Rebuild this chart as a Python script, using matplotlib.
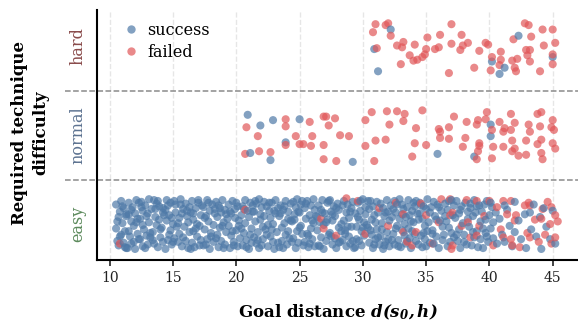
import numpy as np
import matplotlib
matplotlib.use("Agg")
import matplotlib.pyplot as plt
from matplotlib.lines import Line2D

plt.rcParams['font.family'] = ['DejaVu Serif']
plt.rcParams['mathtext.fontset'] = 'dejavuserif'

# category order on the y axis (bottom to top) and label colours
categories = ['easy', 'normal', 'hard']
cat_colors = ['#5c8a5c', '#5d7391', '#8a4b4b']
outcomes = ['success', 'failed']
outcome_colors = ['#4e79a7', '#e15759']

# ---- easy: success (goal distance, vertical jitter) ----
easy_success_x = [
    10.5, 10.5, 10.6, 10.7, 10.7, 10.8, 10.9, 10.9, 11.0, 11.1, 11.1, 11.2, 11.3, 11.3,
    11.4, 11.5, 11.5, 11.6, 11.7, 11.7, 11.8, 11.9, 12.0, 12.0, 12.1, 12.2, 12.2, 12.3,
    12.4, 12.4, 12.5, 12.6, 12.6, 12.7, 12.8, 12.9, 12.9, 13.0, 13.1, 13.1, 13.2, 13.3,
    13.4, 13.5, 13.5, 13.6, 13.7, 13.7, 13.8, 13.9, 13.9, 14.0, 14.1, 14.2, 14.2, 14.3,
    14.4, 14.4, 14.5, 14.6, 14.6, 14.7, 14.8, 14.8, 14.9, 15.0, 15.1, 15.1, 15.2, 15.3,
    15.4, 15.5, 15.5, 15.6, 15.7, 15.7, 15.8, 15.9, 16.0, 16.0, 16.1, 16.2, 16.2, 16.3,
    16.4, 16.5, 16.5, 16.6, 16.6, 16.7, 16.8, 16.9, 16.9, 17.0, 17.1, 17.1, 17.2, 17.3,
    17.4, 17.4, 17.5, 17.6, 17.7, 17.7, 17.8, 17.9, 17.9, 18.0, 18.1, 18.2, 18.2, 18.3,
    18.4, 18.5, 18.5, 18.6, 18.7, 18.7, 18.8, 18.8, 18.9, 19.0, 19.1, 19.1, 19.2, 19.3,
    19.4, 19.4, 19.5, 19.6, 19.6, 19.7, 19.8, 19.9, 19.9, 20.0, 20.1, 20.1, 20.2, 20.3,
    20.4, 20.5, 20.5, 20.6, 20.7, 20.7, 20.8, 20.9, 21.0, 21.0, 21.1, 21.2, 21.2, 21.3,
    21.4, 21.4, 21.5, 21.6, 21.6, 21.7, 21.8, 21.8, 21.9, 22.0, 22.1, 22.1, 22.2, 22.3,
    22.4, 22.5, 22.5, 22.6, 22.7, 22.7, 22.8, 22.9, 22.9, 23.0, 23.1, 23.1, 23.2, 23.3,
    23.4, 23.4, 23.5, 23.6, 23.6, 23.7, 23.8, 23.9, 23.9, 24.0, 24.1, 24.1, 24.2, 24.3,
    24.4, 24.5, 24.5, 24.6, 24.7, 24.7, 24.8, 24.8, 24.9, 25.0, 25.1, 25.1, 25.2, 25.3,
    25.4, 25.4, 25.5, 25.6, 25.6, 25.7, 25.8, 25.9, 25.9, 26.0, 26.1, 26.1, 26.2, 26.3,
    26.4, 26.5, 26.5, 26.6, 26.7, 26.7, 26.8, 26.9, 26.9, 27.0, 27.1, 27.2, 27.2, 27.3,
    27.4, 27.4, 27.5, 27.6, 27.6, 27.7, 27.8, 27.8, 27.9, 28.0, 28.1, 28.1, 28.2, 28.3,
    28.4, 28.5, 28.5, 28.6, 28.7, 28.7, 28.8, 28.9, 28.9, 29.0, 29.1, 29.1, 29.2, 29.3,
    29.4, 29.4, 29.5, 29.6, 29.6, 29.7, 29.8, 29.9, 29.9, 30.0, 30.1, 30.1, 30.2, 30.3,
    30.4, 30.5, 30.5, 30.6, 30.7, 30.7, 30.8, 30.8, 30.9, 31.0, 31.1, 31.1, 31.2, 31.3,
    31.4, 31.4, 31.5, 31.6, 31.6, 31.7, 31.8, 31.9, 31.9, 32.0, 32.1, 32.1, 32.2, 32.3,
    32.4, 32.5, 32.5, 32.6, 32.7, 32.7, 32.8, 32.9, 32.9, 33.0, 33.1, 33.1, 33.2, 33.3,
    33.4, 33.4, 33.5, 33.6, 33.6, 33.7, 33.8, 33.8, 33.9, 34.0, 34.1, 34.1, 34.2, 34.3,
    34.4, 34.5, 34.5, 34.6, 34.7, 34.7, 34.8, 34.9, 34.9, 35.0, 35.1, 35.1, 35.2, 35.3,
    35.4, 35.5, 35.6, 35.6, 35.7, 35.8, 35.9, 36.0, 36.1, 36.2, 36.3,
    36.4, 36.5, 36.6, 36.7, 36.7, 36.8, 36.9, 37.0, 37.1, 37.2, 37.3,
    37.4, 37.5, 37.6, 37.6, 37.7, 37.8, 37.9, 38.0, 38.1, 38.2, 38.3,
    38.4, 38.5, 38.6, 38.7, 38.8, 38.8, 38.9, 39.0, 39.1, 39.2, 39.3,
    39.4, 39.5, 39.6, 39.7, 39.7, 39.8, 39.9, 40.0, 40.1, 40.2, 40.3,
    40.5, 40.6, 40.8, 41.0, 41.2, 41.2, 41.4, 41.6, 41.8, 42.0, 42.0, 42.3, 42.5,
    42.8, 42.9, 43.2, 43.3, 43.5, 43.7, 44.0, 44.1, 44.3, 44.5, 44.8, 45.0, 45.2,
    # second pass over the dense part of the row
    10.6, 10.8, 11.0, 11.2, 11.3,
    11.5, 11.7, 11.9, 12.1, 12.3,
    12.5, 12.6, 12.8, 13.0, 13.2,
    13.4, 13.6, 13.8, 14.0, 14.2,
    14.5, 14.7, 14.9, 15.0, 15.2,
    15.4, 15.6, 15.8, 16.1, 16.3,
    16.4, 16.6, 16.8, 17.0, 17.2,
    17.5, 17.6, 17.8, 18.0, 18.3,
    18.4, 18.6, 18.9, 19.0, 19.2,
    19.5, 19.7, 19.8, 20.0, 20.2,
    20.4, 20.6, 20.8, 21.1, 21.3,
    21.5, 21.7, 21.9, 22.0, 22.2,
    22.4, 22.6, 22.8, 23.0, 23.3,
    23.5, 23.7, 23.8, 24.1, 24.3,
    24.4, 24.6, 24.9, 25.0, 25.2,
    25.5, 25.7, 25.8, 26.0, 26.2,
    26.4, 26.6, 26.8, 27.1, 27.3,
    27.5, 27.6, 27.9, 28.1, 28.3,
    28.4, 28.6, 28.8, 29.0, 29.2,
    29.5, 29.7, 29.8, 30.0, 30.2,
    30.4, 30.6, 30.9, 31.0, 31.2,
    31.5, 31.7, 31.8, 32.0, 32.3,
    32.4, 32.6, 32.8, 33.1, 33.3,
    33.5, 33.7, 33.9, 34.0, 34.2,
    34.4, 34.6, 34.8, 35.0, 35.3,
    35.5, 35.8, 36.0, 36.3,
    36.5, 36.8, 37.0, 37.2,
    37.4, 37.7, 38.0, 38.3,
    38.5, 38.7, 39.0, 39.3,
    39.5, 39.8, 40.1, 40.3,
]
easy_success_dy = [
    0.22, -0.05, -0.19, 0.08, -0.24, 0.14, -0.12, 0.26, 0.01, -0.21, 0.18, -0.08, 0.11, -0.27,
    -0.27, 0.11, 0.24, -0.14, 0.03, -0.22, 0.19, -0.02, -0.28, 0.12, 0.27, -0.11, 0.06, -0.17,
    0.06, -0.17, 0.25, -0.25, 0.15, -0.06, 0.21, -0.13, 0.09, -0.23, 0.02, 0.28, -0.10, 0.17,
    -0.09, 0.27, -0.22, 0.17, -0.01, 0.23, -0.26, 0.05, 0.20, -0.15, -0.04, 0.13, -0.20, 0.10,
    0.16, -0.28, 0.04, 0.21, -0.18, 0.10, -0.07, 0.24, -0.23, 0.00, 0.26, -0.16, 0.13, -0.03,
    -0.20, 0.07, -0.11, 0.28, 0.12, -0.25, 0.17, -0.03, 0.23, -0.19, 0.09, -0.27, 0.02, 0.19,
    0.13, -0.21, 0.26, -0.08, 0.05, -0.26, 0.18, 0.00, -0.14, 0.24, -0.02, -0.24, 0.10, 0.21,
    -0.24, 0.19, -0.06, 0.09, -0.17, 0.27, 0.03, -0.28, 0.15, -0.10, 0.22, -0.01, -0.20, 0.12,
    0.25, -0.12, 0.08, -0.26, 0.18, -0.04, 0.13, -0.19, 0.27, 0.02, -0.23, 0.16, -0.09, 0.06,
    -0.02, 0.22, -0.27, 0.12, -0.13, 0.26, -0.20, 0.07, 0.17, -0.07, -0.25, 0.20, 0.04, -0.16,
    0.10, -0.24, 0.20, -0.10, 0.27, 0.01, -0.18, 0.15, -0.28, 0.08, 0.24, -0.05, -0.21, 0.14,
    -0.15, 0.14, 0.03, -0.22, 0.23, -0.09, 0.28, -0.27, 0.11, 0.19, -0.03, -0.17, 0.25, -0.06,
    0.20, -0.01, -0.25, 0.15, -0.14, 0.07, 0.24, -0.20, 0.00, -0.28, 0.12, 0.27, -0.09, 0.18,
    -0.26, 0.09, 0.21, -0.04, -0.19, 0.16, 0.01, -0.12, 0.26, -0.23, 0.06, 0.14, -0.16, 0.23,
    0.03, 0.25, -0.16, 0.11, -0.27, 0.19, -0.08, 0.28, -0.21, 0.13, -0.02, 0.22, -0.11, -0.24,
    0.18, -0.20, 0.06, -0.11, 0.26, -0.26, 0.10, -0.05, 0.21, -0.17, 0.28, 0.01, -0.25, 0.09,
    -0.07, 0.21, -0.24, 0.02, 0.16, -0.15, 0.27, -0.01, -0.28, 0.12, -0.19, 0.24, 0.05, -0.12,
    0.27, -0.10, 0.14, -0.23, 0.04, 0.20, -0.16, 0.09, -0.27, 0.23, -0.04, 0.16, -0.20, 0.00,
    -0.18, 0.04, 0.26, -0.07, -0.25, 0.13, 0.22, -0.14, 0.07, -0.22, 0.18, -0.03, 0.25, -0.27,
    0.12, -0.26, -0.03, 0.24, 0.08, -0.19, 0.15, -0.08, -0.24, 0.28, 0.02, -0.13, 0.19, -0.01,
    -0.04, 0.17, -0.21, 0.26, -0.12, 0.05, -0.27, 0.20, 0.10, -0.17, 0.25, -0.06, 0.13, -0.23,
    0.23, -0.14, 0.01, -0.28, 0.18, 0.09, -0.20, 0.27, -0.09, 0.14, -0.25, 0.04, 0.21, -0.18,
    -0.11, 0.26, -0.23, 0.13, -0.02, 0.22, -0.18, 0.06, 0.28, -0.26, 0.11, -0.07, 0.17, 0.00,
    0.08, -0.22, 0.19, -0.05, 0.27, -0.16, 0.03, -0.27, 0.15, 0.24, -0.11, 0.20, -0.19, 0.12,
    -0.23, 0.12, 0.24, -0.13, 0.06, -0.26, 0.20, -0.02, -0.17, 0.17, 0.28, -0.08, 0.02, -0.21,
    0.19, -0.07, 0.25, -0.22, 0.09, -0.14, 0.22, -0.27, 0.04, 0.15, -0.18,
    -0.12, 0.23, 0.03, -0.25, 0.16, -0.04, -0.20, 0.27, 0.10, -0.15, 0.07,
    0.26, -0.19, 0.12, -0.06, -0.27, 0.20, 0.01, -0.12, 0.24, -0.23, 0.14,
    -0.03, 0.18, -0.24, 0.09, 0.27, -0.15, 0.13, -0.08, -0.26, 0.21, 0.03,
    0.14, -0.27, 0.22, -0.10, 0.05, 0.26, -0.20, 0.10, -0.05, 0.19, -0.16,
    0.13, -0.22, 0.06, -0.12, 0.21, -0.20, 0.16, -0.02, -0.25, -0.09, 0.25, 0.04, -0.17,
    0.11, -0.27, 0.13, -0.06, 0.22, -0.14, 0.08, -0.28, 0.18, -0.03, -0.17, 0.15, -0.22,
    # second pass
    0.03, -0.14, 0.20, -0.26, 0.09,
    -0.08, 0.16, -0.20, 0.02, 0.24,
    0.19, -0.01, -0.27, 0.12, -0.15,
    -0.18, 0.08, 0.26, -0.06, 0.18,
    0.27, -0.12, 0.07, -0.20, 0.22,
    0.01, 0.22, -0.15, 0.15, -0.09,
    -0.28, 0.12, -0.05, 0.27, -0.18,
    0.07, -0.23, 0.24, -0.14, 0.17,
    -0.16, 0.21, -0.02, -0.27, 0.11,
    0.14, -0.08, -0.24, 0.24, -0.02,
    -0.05, 0.17, -0.26, -0.12, 0.21,
    0.26, -0.18, 0.05, -0.24, 0.09,
    -0.12, 0.24, -0.06, 0.15, -0.21,
    0.12, -0.27, 0.20, -0.08, 0.04,
    -0.20, 0.05, 0.14, -0.04, 0.26,
    0.23, -0.13, -0.22, 0.04, 0.16,
    0.08, -0.25, 0.13, 0.02, 0.26,
    -0.14, 0.11, 0.18, -0.21, -0.08,
    0.21, -0.11, -0.03, 0.14, -0.19,
    -0.17, 0.05, 0.26, -0.04, 0.11,
    0.26, -0.07, -0.23, 0.02, -0.15,
    -0.06, -0.24, 0.13, -0.17, 0.08,
    0.17, -0.05, -0.25, 0.22, -0.13,
    -0.19, 0.10, -0.08, 0.02, 0.26,
    0.05, 0.21, -0.10, -0.25, 0.13,
    -0.11, 0.05, 0.19, -0.03,
    0.09, 0.26, -0.10, 0.21,
    -0.12, 0.16, -0.20, 0.06,
    0.23, -0.09, 0.20, -0.17,
    -0.05, -0.14, 0.24, 0.02,
]
easy_failed_x = [
    10.8, 20.7, 26.7, 26.9, 27.9, 28.7, 29.6, 30.2, 31.3, 32.0, 32.6, 33.2, 33.2, 33.5,
    33.9, 34.2, 34.6, 35.0, 35.5, 36.0, 36.2, 36.9, 36.9, 37.0, 37.1, 37.1, 37.8, 38.2,
    38.3, 38.5, 39.0, 39.0, 39.2, 39.6, 40.0, 40.3, 40.6, 40.9, 41.1, 41.1, 41.4, 41.7,
    41.7, 41.8, 42.0, 42.1, 42.4, 42.8, 43.0, 43.1, 43.2, 43.2, 43.6, 43.9, 44.1, 44.2,
    44.4, 44.6, 44.8, 44.9, 44.9, 45.2, 45.2, 45.4,
]
easy_failed_dy = [
    -0.22, 0.16, 0.06, -0.05, -0.13, 0.29, 0.26, -0.11, 0.18, -0.02, 0.24, -0.09, 0.11, -0.20,
    -0.24, -0.09, 0.23, 0.10, -0.22, 0.02, 0.28, 0.28, 0.10, -0.28, 0.13, -0.24, -0.02, 0.27,
    0.02, -0.15, 0.26, -0.13, -0.02, 0.09, 0.26, -0.24, 0.19, -0.06, 0.26, -0.15, 0.11, 0.26,
    -0.17, -0.24, 0.04, 0.10, -0.26, 0.21, -0.10, 0.24, 0.21, -0.15, 0.05, -0.20, 0.06, 0.17,
    -0.12, 0.25, 0.00, 0.19, -0.22, 0.10, -0.15, 0.03,
]

# ---- normal ----
normal_success_x = [20.9, 21.9, 22.9, 25.0, 23.9, 21.1, 22.7, 29.2, 35.9, 38.8, 40.1, 40.1]
normal_success_dy = [0.23, 0.11, 0.17, 0.18, -0.08, -0.20, -0.28, -0.30, -0.21, -0.24, 0.12, -0.01]
normal_failed_x = [
    20.8, 21.7, 20.7, 21.8, 22.7, 23.9, 23.9, 23.9, 24.7, 25.0, 25.3, 25.8, 26.0, 25.9,
    26.9, 26.9, 27.1, 27.8, 27.3, 28.2, 26.9, 27.9, 28.9, 30.2, 30.7, 31.9, 32.7, 33.3,
    33.2, 32.1, 30.2, 31.0, 31.8, 30.9, 33.9, 34.1, 34.2, 34.7, 35.0, 36.0, 36.1, 36.1,
    36.8, 36.8, 37.2, 37.9, 38.1, 38.2, 39.0, 39.1, 39.8, 39.7, 39.2, 39.2, 39.1, 39.0,
    40.2, 40.3, 40.2, 40.8, 41.1, 41.1, 41.2, 41.7, 41.7, 41.8, 42.0, 42.0, 41.8, 42.3,
    42.9, 42.9, 43.1, 43.2, 43.8, 44.1, 44.0, 44.1, 43.8, 44.1, 44.2, 45.0, 44.9, 45.1,
    45.0, 45.2,
]
normal_failed_dy = [
    0.09, -0.01, -0.21, -0.18, -0.19, 0.18, 0.10, -0.11, -0.01, -0.10, -0.10, 0.15, -0.01, -0.12,
    -0.11, 0.21, 0.21, 0.19, 0.11, 0.00, -0.27, -0.29, -0.01, 0.17, 0.26, 0.27, 0.27, 0.24,
    0.16, 0.12, -0.12, -0.06, -0.05, -0.29, -0.24, -0.09, 0.08, 0.28, -0.11, 0.07, 0.04, -0.03,
    0.09, -0.04, 0.21, -0.13, -0.03, 0.15, 0.12, 0.17, 0.26, 0.18, -0.09, -0.12, -0.18, -0.27,
    0.06, -0.13, -0.26, 0.15, -0.13, 0.04, 0.08, 0.24, 0.06, -0.06, 0.14, -0.15, -0.18, -0.23,
    -0.22, -0.06, 0.12, 0.04, 0.24, 0.26, 0.10, -0.05, -0.10, -0.20, -0.27, 0.17, 0.09, 0.06,
    -0.09, -0.15,
]

# ---- hard ----
hard_success_x = [32.2, 30.9, 31.2, 40.2, 41.2, 40.8, 42.3, 45.0]
hard_success_dy = [0.19, -0.03, -0.28, -0.17, -0.24, -0.31, 0.12, -0.12]
hard_failed_x = [
    31.0, 30.8, 31.8, 32.0, 32.2, 31.1, 32.7, 33.2, 33.1, 34.1, 33.0, 33.7, 34.0, 34.3,
    34.7, 34.9, 35.0, 35.1, 35.7, 36.0, 36.1, 37.0, 37.0, 36.8, 37.8, 37.9, 37.7, 38.3,
    38.8, 39.2, 39.7, 39.9, 40.2, 40.9, 40.9, 40.8, 40.1, 41.8, 41.9, 42.2, 42.0, 42.1,
    42.8, 43.1, 43.3, 42.9, 43.2, 43.0, 43.2, 44.2, 45.0, 44.3, 45.2, 45.0, 45.0, 44.0,
]
hard_failed_dy = [
    0.25, 0.16, 0.24, 0.26, 0.12, -0.02, 0.01, 0.05, -0.01, 0.02, -0.20, -0.10, -0.16, -0.15,
    -0.12, -0.09, -0.03, 0.10, -0.03, -0.01, 0.13, 0.25, 0.03, -0.30, 0.13, 0.01, -0.04, 0.04,
    -0.24, -0.05, 0.04, 0.02, -0.12, -0.06, -0.15, -0.21, -0.27, -0.16, 0.08, -0.14, -0.24, -0.28,
    0.26, 0.24, 0.11, -0.04, -0.04, -0.10, -0.17, 0.19, 0.19, 0.01, 0.04, -0.09, -0.20, -0.28,
]

x_ticks = [10, 15, 20, 25, 30, 35, 40, 45]

data = {
    'easy': [(easy_success_x, easy_success_dy), (easy_failed_x, easy_failed_dy)],
    'normal': [(normal_success_x, normal_success_dy), (normal_failed_x, normal_failed_dy)],
    'hard': [(hard_success_x, hard_success_dy), (hard_failed_x, hard_failed_dy)],
}

fig = plt.figure(figsize=(5.78, 3.22), dpi=100)
ax = fig.add_axes([0.168, 0.191, 0.832, 0.778])

for i, cat in enumerate(categories):
    # one scatter per row, sorted by distance so colours interleave like a stripplot
    xs, ys, cs = [], [], []
    for (x, dy), col in zip(data[cat], outcome_colors):
        xs += list(x)
        ys += [i + d for d in dy]
        cs += [col] * len(x)
    order = np.argsort(xs, kind='stable')
    ax.scatter(np.array(xs)[order], np.array(ys)[order], c=np.array(cs)[order],
               s=34, alpha=0.7, linewidths=0, zorder=3)

# separators between difficulty rows
for yb in [0.5, 1.5]:
    ax.axhline(yb, xmin=-0.067, xmax=1, color='#8a8a8a', linestyle='--',
               linewidth=1.1, clip_on=False, zorder=2)

ax.set_xlim(9, 47)
ax.set_ylim(-0.41, 2.41)
ax.set_xticks(x_ticks)
ax.tick_params(axis='x', labelsize=10, length=4, width=1.2, colors='#222222')
ax.grid(axis='x', linestyle='--', color='#e6e6e6', linewidth=1, zorder=0)

ax.set_yticks(range(len(categories)))
ax.set_yticklabels(categories, rotation=90, va='center', fontsize=11.5)
for lab, col in zip(ax.get_yticklabels(), cat_colors):
    lab.set_color(col)
ax.tick_params(axis='y', length=0, pad=8)

for side in ['top', 'right']:
    ax.spines[side].set_visible(False)
for side in ['left', 'bottom']:
    ax.spines[side].set_linewidth(1.5)

ax.set_xlabel(r'Goal distance $\mathbfit{d(s_0,h)}$', fontsize=12,
              fontweight='bold', labelpad=13)
ax.set_ylabel('Required technique\ndifficulty', fontsize=12, fontweight='bold',
              linespacing=1.3)
ax.yaxis.set_label_coords(-0.1, 0.51)

handles = [Line2D([], [], marker='o', linestyle='', color=c, alpha=0.7,
                  markeredgewidth=0, markersize=6) for c in outcome_colors]
ax.legend(handles, outcomes, loc='upper left', bbox_to_anchor=(0.03, 1.0),
          frameon=False, fontsize=11.5, handlelength=1.0, handletextpad=0.5,
          labelspacing=0.3, borderaxespad=0.35)

fig.savefig('out.png', dpi=100)
